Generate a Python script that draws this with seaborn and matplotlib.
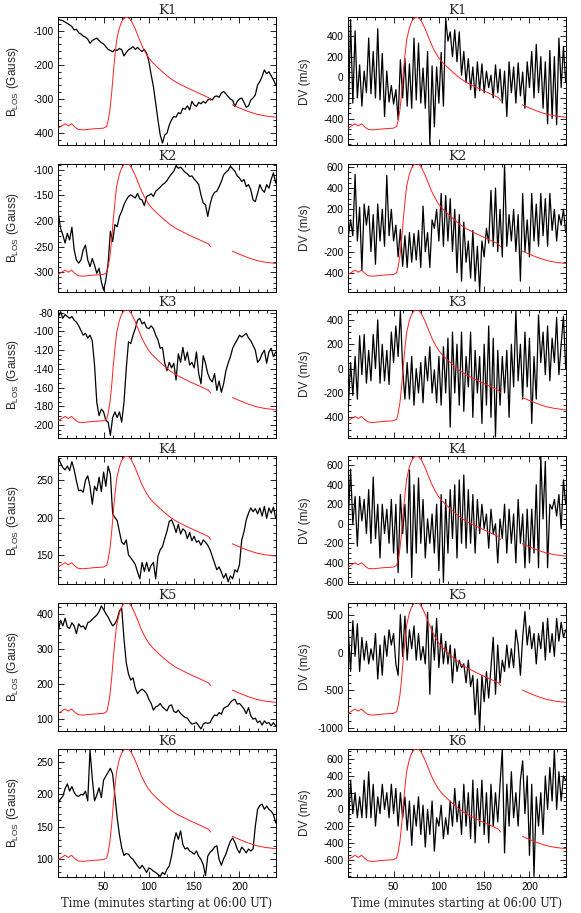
import numpy as np
import pandas as pd
import matplotlib
matplotlib.use("Agg")
import matplotlib.pyplot as plt
import seaborn as sns
from matplotlib.ticker import AutoMinorLocator

sns.set_theme(style="ticks")
plt.rcParams['font.family'] = ['Liberation Sans', 'DejaVu Sans']
plt.rcParams['axes.unicode_minus'] = False
plt.rcParams['mathtext.default'] = 'regular'

# time samples (minutes starting at 06:00 UT), every 2.5 min
time_min = np.arange(0, 240.1, 2.5)

# ---------------- B_LOS (Gauss) ----------------
k1_blos = [-67, -69, -71, -75, -79, -83, -88, -98, -96, -106,
           -110, -116, -119, -125, -137, -129, -125, -122, -129, -135,
           -139, -147, -155, -158, -162, -155, -158, -152, -156, -174,
           -164, -156, -152, -147, -155, -149, -156, -161, -155, -166,
           -190, -229, -264, -312, -361, -405, -429, -405, -400, -376,
           -361, -351, -353, -340, -343, -327, -330, -320, -332, -307,
           -317, -322, -310, -314, -307, -312, -303, -299, -303, -293,
           -291, -295, -283, -278, -285, -293, -300, -304, -322, -307,
           -300, -297, -310, -324, -320, -303, -297, -288, -259, -249,
           -234, -215, -226, -220, -232, -244, -259]
k2_blos = [-185, -214, -227, -243, -224, -237, -212, -256, -276, -282,
           -276, -256, -247, -276, -289, -273, -286, -302, -292, -318,
           -335, -315, -282, -220, -240, -207, -211, -191, -181, -168,
           -159, -152, -149, -152, -155, -146, -157, -159, -170, -152,
           -150, -147, -152, -142, -138, -134, -129, -126, -121, -114,
           -108, -103, -92, -97, -95, -100, -105, -108, -113, -112,
           -118, -123, -129, -149, -165, -168, -191, -168, -152, -144,
           -142, -133, -123, -110, -105, -101, -93, -98, -103, -112,
           -116, -123, -119, -133, -129, -139, -159, -162, -146, -129,
           -139, -144, -129, -136, -119, -106, -126]
k3_blos = [-85, -79, -86, -82, -84, -86, -84, -88, -90, -94,
           -99, -104, -102, -107, -104, -110, -136, -176, -190, -183,
           -186, -195, -197, -211, -192, -186, -192, -186, -197, -176,
           -140, -111, -113, -104, -97, -88, -86, -92, -90, -96,
           -97, -94, -97, -104, -109, -118, -117, -134, -142, -133,
           -139, -134, -152, -124, -133, -117, -131, -122, -136, -133,
           -139, -122, -145, -156, -126, -134, -145, -151, -154, -145,
           -163, -153, -165, -156, -142, -134, -127, -118, -113, -109,
           -104, -106, -104, -102, -107, -110, -115, -120, -133, -130,
           -124, -120, -134, -122, -118, -127, -122]
k4_blos = [280, 273, 267, 264, 269, 263, 275, 264, 249, 236,
           237, 234, 250, 256, 242, 218, 242, 236, 254, 235,
           261, 242, 269, 258, 205, 200, 196, 181, 167, 164,
           170, 150, 146, 142, 137, 127, 118, 140, 128, 140,
           128, 136, 140, 118, 148, 157, 161, 172, 182, 195,
           197, 190, 180, 191, 178, 185, 182, 172, 180, 169,
           175, 167, 169, 163, 170, 167, 163, 157, 148, 139,
           130, 134, 127, 119, 125, 114, 122, 118, 130, 127,
           137, 170, 181, 197, 206, 213, 208, 212, 205, 213,
           202, 215, 199, 213, 206, 214, 199]
k5_blos = [352, 383, 367, 389, 364, 360, 376, 367, 345, 373,
           364, 367, 357, 376, 379, 386, 392, 398, 408, 424,
           414, 402, 392, 379, 367, 373, 386, 410, 418, 330,
           262, 229, 212, 218, 189, 173, 181, 186, 181, 173,
           157, 145, 126, 135, 138, 145, 135, 129, 124, 138,
           141, 122, 119, 126, 116, 110, 105, 103, 93, 86,
           88, 90, 81, 72, 86, 90, 88, 90, 103, 112,
           110, 119, 114, 131, 135, 138, 148, 154, 157, 143,
           145, 138, 129, 116, 133, 110, 100, 103, 90, 95,
           83, 95, 88, 90, 81, 90, 81]
k6_blos = [187, 193, 197, 209, 216, 205, 212, 203, 198, 197,
           200, 199, 205, 190, 268, 225, 190, 199, 210, 195,
           222, 228, 234, 240, 231, 198, 164, 138, 118, 106,
           109, 108, 103, 100, 95, 90, 86, 91, 86, 80,
           87, 85, 82, 80, 77, 74, 80, 77, 85, 90,
           105, 126, 141, 131, 144, 123, 116, 118, 113, 111,
           108, 113, 105, 100, 92, 75, 105, 111, 114, 119,
           121, 100, 91, 101, 108, 119, 128, 133, 126, 116,
           110, 119, 115, 110, 116, 113, 116, 151, 177, 183,
           185, 177, 182, 177, 174, 169, 156]

# ---------------- Doppler velocity DV (m/s) ----------------
k1_dv = [-420, 560, -250, 450, -200, 120, -280, 60, -150, 380,
         -160, 250, -200, 470, -220, 230, -380, 60, -240, -80,
         -260, -120, -410, 170, -200, 180, -280, 130, -300, 380,
         -220, 330, -250, 90, -300, 250, -650, 110, -480, 100,
         -250, 240, -280, 570, 350, 440, 200, 460, 150, 440,
         20, 250, -50, 180, -120, 100, -200, 150, -130, 130,
         -150, 60, -100, 20, -200, 120, -150, 80, -250, 60,
         -380, 150, -150, 100, -250, 140, -180, 50, -300, 150,
         -100, 250, -200, 320, -150, 200, -300, 150, -450, 260,
         -400, 200, -460, 380, -100, 300, -50]
k2_dv = [-60, 100, -50, 530, -100, 220, -380, 250, 50, 230,
         -200, 150, -320, 250, -100, 200, -150, 520, -50, 200,
         -100, 50, -250, 10, -340, -50, -350, -20, -300, -30,
         -280, 0, -350, 230, -200, -20, -350, 100, 20, 200,
         -100, 350, -150, 330, -100, 300, -200, 200, -400, 150,
         -480, 80, -300, -100, -450, 0, -480, -150, -580, -100,
         -250, 20, -120, 380, -150, 400, -200, 200, -250, 630,
         -150, 150, -100, 200, -200, 150, -480, 350, -200, 100,
         -250, 350, -100, 250, -150, 350, -50, 300, -150, 350,
         0, 200, -100, 150, 50, 200, -20]
k3_dv = [-330, 50, -220, 100, -250, 270, -50, 280, -120, 150,
         -100, 280, 0, 400, -120, 200, -100, 150, -130, 300,
         50, 350, 100, 470, 0, -250, 50, -250, 100, -300,
         0, -200, 50, -280, 100, -100, 180, -200, -10, -280,
         100, -300, 180, -200, 250, -480, 300, -200, 200, -300,
         300, -350, 100, -150, 300, -400, 150, -200, 100, -450,
         200, -300, 350, -400, 250, -560, 150, -300, 100, -200,
         150, -400, 200, -150, 480, -100, 200, -250, 300, -150,
         250, -450, 100, -250, 440, 50, 300, -50, 350, -100,
         250, 50, 420, -50, 200, 430, 0]
k4_dv = [50, 560, 0, 280, -230, 280, 30, 250, -100, 350,
         -200, 480, -150, 200, -350, 200, -100, 150, -200, 250,
         -300, 200, -500, 300, -100, 200, -300, 550, -550, 400,
         -300, 470, -200, 250, -350, 50, -200, 100, -300, 200,
         -480, 300, -600, 250, -300, 350, -150, 400, -350, 450,
         -200, 500, -250, 350, -200, 300, -300, 250, -100, 200,
         -50, 100, -250, 150, -100, 0, -400, 50, -150, 200,
         -300, 150, -200, 100, -400, 250, -200, 100, -450, 150,
         -400, 150, -300, 400, -450, 690, 50, 640, -450, 200,
         150, 250, 80, 300, -50, 450, 200]
k5_dv = [300, -250, 420, -50, 380, -250, 200, -100, 150, -150,
         50, -100, 250, -350, 100, -300, 220, -50, 300, 100,
         250, -150, -300, 500, -50, 480, -100, 300, 50, 350,
         -100, 250, -100, 80, -150, 530, -550, 350, -100, 450,
         -200, 250, -150, 150, -150, 100, -400, 50, -250, -100,
         -200, -150, -400, -100, -450, -300, -820, -350, -1030, -300,
         -650, -250, -600, -200, 200, -550, 100, -400, -100, -250,
         100, -200, 50, -200, 300, 100, -300, 200, 540, 100,
         350, 50, 250, -150, 250, 50, 400, -100, 450, 0,
         250, -50, 450, 150, 400, 200, 300]
k6_dv = [-250, 350, -50, 200, -100, 150, -100, 350, -100, 450,
         -100, 300, -200, 150, -50, 300, 0, 200, -100, 300,
         -50, 250, -200, 200, -100, 150, -250, 100, -430, 50,
         -200, 150, -300, 50, -450, 0, -300, 100, -500, -100,
         -200, 50, -350, -100, -300, 100, -200, 250, -150, 100,
         -300, 300, -200, 200, -350, 350, -400, 250, -200, 350,
         -300, 200, -400, 300, -200, 200, -150, 300, 720, -520,
         300, -200, 450, -100, 200, -200, 350, 580, -50, 400,
         -550, 300, -800, 150, -200, 200, -300, 400, 0, 500,
         100, 720, 0, 450, 100, 400, 350]

# ---------------- GOES-like flare light curve (relative, red) ----------------
goes_time = [0, 3.7, 7.4, 11, 14.7, 18.4, 22, 27.6, 38.6, 49.7,
             53.4, 55.2, 57, 58.9, 60.7, 62.6, 64.4, 67.3, 69.9, 72.5,
             75.4, 78.4, 81, 84.6, 88.3, 92, 95.7, 99.4, 103, 108.6,
             115.9, 123.3, 130.6, 138, 145.4, 152.7, 160, 165.6, 168.2,
             192.1, 200.6, 209.8, 219, 228.2, 240]
goes_flux = [0.135, 0.153, 0.169, 0.153, 0.169, 0.143, 0.125, 0.122, 0.130, 0.135,
             0.148, 0.20, 0.278, 0.408, 0.564, 0.706, 0.823, 0.914, 0.966, 0.992,
             1.0, 0.992, 0.966, 0.914, 0.849, 0.784, 0.732, 0.688, 0.655, 0.616,
             0.569, 0.525, 0.491, 0.465, 0.439, 0.416, 0.392, 0.374, 0.351,
             0.317, 0.291, 0.265, 0.244, 0.231, 0.221]

labels = ["K1", "K2", "K3", "K4", "K5", "K6"]
blos_series = [k1_blos, k2_blos, k3_blos, k4_blos, k5_blos, k6_blos]
dv_series = [k1_dv, k2_dv, k3_dv, k4_dv, k5_dv, k6_dv]
blos_ylim = [(-436, -61), (-338, -88), (-214, -77), (110.5, 282.3), (67, 434), (73, 270)]
dv_ylim = [(-661, 581), (-580, 632), (-570, 482), (-621, 693), (-1031, 660), (-808, 724)]
blos_ticks = [[-400, -300, -200, -100], [-300, -250, -200, -150, -100],
              [-200, -180, -160, -140, -120, -100, -80], [150, 200, 250],
              [100, 200, 300, 400], [100, 150, 200, 250]]
dv_ticks = [[-600, -400, -200, 0, 200, 400], [-400, -200, 0, 200, 400, 600],
            [-400, -200, 0, 200, 400], [-600, -400, -200, 0, 200, 400, 600],
            [-1000, -500, 0, 500], [-600, -400, -200, 0, 200, 400, 600]]

goes_df = pd.DataFrame({"t": goes_time, "flux": goes_flux})
goes_df["seg"] = (goes_df["t"] > 180).astype(int)

W, H = 581, 913
fig = plt.figure(figsize=(W / 100, H / 100), dpi=100)

ax_w = 217.4 / W
ax_h = 128.2 / H
lefts = [58.3 / W, 348.3 / W]

serif = ['DejaVu Serif']


def style_axes(ax, yticks, ylim, bottom_row):
    ax.set_xlim(0, 240)
    ax.set_ylim(*ylim)
    ax.set_xticks([50, 100, 150, 200])
    ax.set_yticks(yticks)
    ax.set_ylim(*ylim)
    ax.xaxis.set_minor_locator(AutoMinorLocator(5))
    ax.yaxis.set_minor_locator(AutoMinorLocator())
    ax.tick_params(which='both', direction='in', top=True, right=True,
                   left=True, bottom=True, colors='black', width=0.6,
                   labelsize=7.2, labelbottom=bottom_row, labelleft=True,
                   labelright=False, labeltop=False)
    ax.tick_params(which='major', length=4, pad=3.5)
    ax.tick_params(which='minor', length=2)
    for s in ax.spines.values():
        s.set_visible(True)
        s.set_color('black')
        s.set_linewidth(0.7)
    ax.set_facecolor('white')


for i in range(6):
    top_px = 17.3 + 146.3 * i
    bottom = 1 - (top_px + 128.2) / H
    for j, (series, ylims, ticks, ylab) in enumerate([
            (blos_series, blos_ylim, blos_ticks, 'B$_{LOS}$ (Gauss)'),
            (dv_series, dv_ylim, dv_ticks, 'DV (m/s)')]):
        ax = fig.add_axes([lefts[j], bottom, ax_w, ax_h])
        sns.lineplot(x=time_min, y=series[i], ax=ax, color='black',
                     linewidth=0.9, estimator=None, sort=False)
        ax2 = ax.twinx()
        sns.lineplot(data=goes_df, x="t", y="flux", units="seg",
                     estimator=None, sort=False, color='#ff2020',
                     linewidth=0.7, ax=ax2)
        ax2.set_ylim(0, 1)
        ax2.set_yticks([])
        ax2.set_ylabel('')
        ax2.tick_params(right=False, labelright=False)
        for s in ax2.spines.values():
            s.set_visible(False)
        style_axes(ax, ticks[i], ylims[i], bottom_row=(i == 5))
        ax.set_title(labels[i], fontsize=9.5, family=serif, pad=2.5)
        ax.set_ylabel(ylab, fontsize=8.5)
        ax.yaxis.set_label_coords(-0.172, 0.5)
        if i == 5:
            ax.set_xlabel('Time (minutes starting at 06:00 UT)',
                          fontsize=8.3, family=serif)
            ax.xaxis.set_label_coords(0.5, -0.155)
        else:
            ax.set_xlabel('')

fig.savefig("out.png", dpi=100, facecolor='white')
